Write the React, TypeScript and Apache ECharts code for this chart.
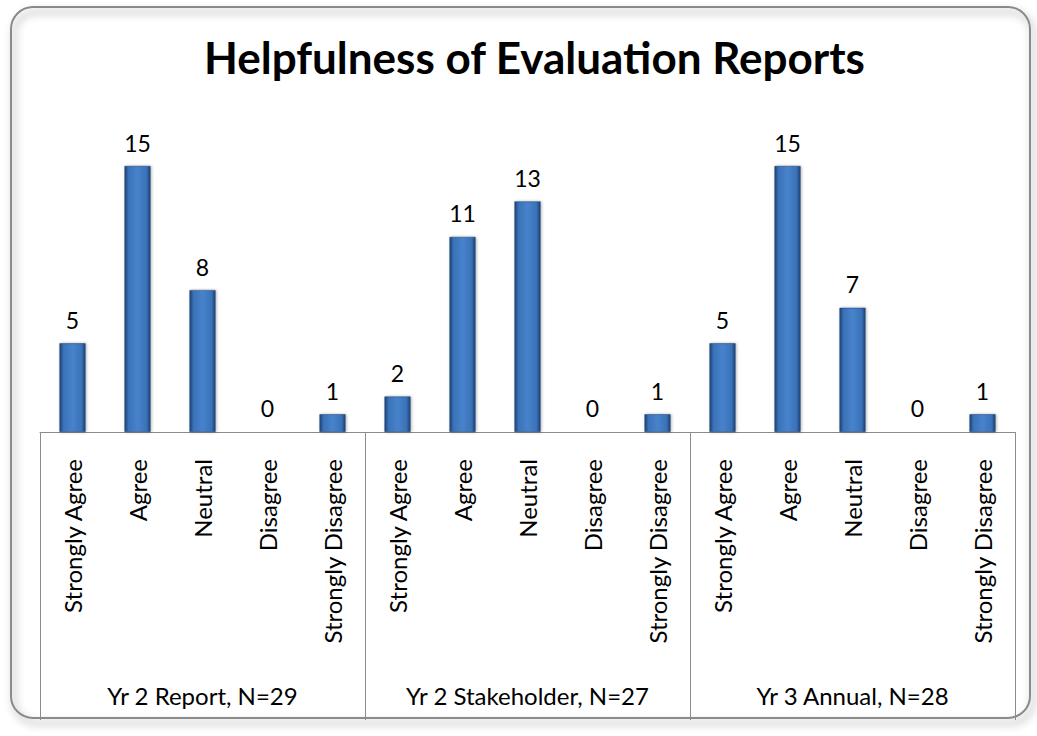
import React, { useEffect, useRef } from "react";
import * as echarts from "echarts";

const responses = ["Strongly Agree", "Agree", "Neutral", "Disagree", "Strongly Disagree"];
const groups = ["Yr 2 Report, N=29", "Yr 2 Stakeholder, N=27", "Yr 3 Annual, N=28"];
const yr2Report = [5, 15, 8, 0, 1];
const yr2Stakeholder = [2, 11, 13, 0, 1];
const yr3Annual = [5, 15, 7, 0, 1];

const FONT = "Lato, 'Open Sans', sans-serif";

export default function App() {
  const ref = useRef<HTMLDivElement>(null);
  useEffect(() => {
    if (!ref.current) return;
    const chart = echarts.init(ref.current, undefined, { renderer: "svg" });
    const categories = [...responses, ...responses, ...responses];
    const values = [...yr2Report, ...yr2Stakeholder, ...yr3Annual];
    const barColor = new echarts.graphic.LinearGradient(0, 0, 1, 0, [
      { offset: 0, color: "#1d4477" },
      { offset: 0.15, color: "#3a72b8" },
      { offset: 0.5, color: "#4783cc" },
      { offset: 0.85, color: "#3a72b8" },
      { offset: 1, color: "#1d4477" },
    ]);
    chart.setOption({
      animation: false,
      backgroundColor: "#ffffff",
      title: {
        text: "Helpfulness of Evaluation Reports",
        left: 199,
        top: 30,
        textStyle: { fontFamily: FONT, fontSize: 44, fontWeight: "bold", color: "#000" },
      },
      graphic: [
        {
          type: "rect",
          shape: { x: 11, y: 7, width: 1019, height: 711, r: 22 },
          style: {
            fill: "none",
            stroke: "#8a8a8a",
            lineWidth: 2,
            shadowBlur: 8,
            shadowOffsetX: 3,
            shadowOffsetY: 5,
            shadowColor: "rgba(0,0,0,0.45)",
          },
          z: -1,
        },
      ],
      grid: { left: 40, right: 22, top: 166, bottom: 304, containLabel: false },
      xAxis: [
        {
          type: "category",
          data: categories,
          position: "bottom",
          axisLine: { show: true, lineStyle: { color: "#8c8c8c", width: 1 } },
          axisTick: { show: false },
          axisLabel: {
            rotate: 90,
            interval: 0,
            margin: 27,
            fontFamily: FONT,
            fontSize: 24,
            color: "#000",
          },
        },
        {
          type: "category",
          data: groups,
          position: "bottom",
          axisLine: { show: false },
          axisTick: { show: true, length: 288, inside: false, lineStyle: { color: "#8c8c8c", width: 1 } },
          axisLabel: { margin: 251, fontFamily: FONT, fontSize: 24, color: "#000" },
        },
      ],
      yAxis: {
        type: "value",
        min: 0,
        max: 15,
        show: false,
        splitLine: { show: false },
      },
      series: [
        {
          type: "bar",
          data: values,
          xAxisIndex: 0,
          barWidth: 26,
          itemStyle: {
            color: barColor,
            borderColor: "#1a3d6b",
            borderWidth: 0.5,
            shadowBlur: 3,
            shadowOffsetX: 1,
            shadowColor: "rgba(0,0,0,0.3)",
          },
          label: {
            show: true,
            position: "top",
            distance: 12,
            fontFamily: FONT,
            fontSize: 23,
            color: "#000",
          },
        },
      ],
    });
    return () => chart.dispose();
  }, []);
  return (
    <div
      ref={ref}
      style={{ position: "absolute", left: 0, top: 0, width: 1037, height: 736 }}
    />
  );
}
